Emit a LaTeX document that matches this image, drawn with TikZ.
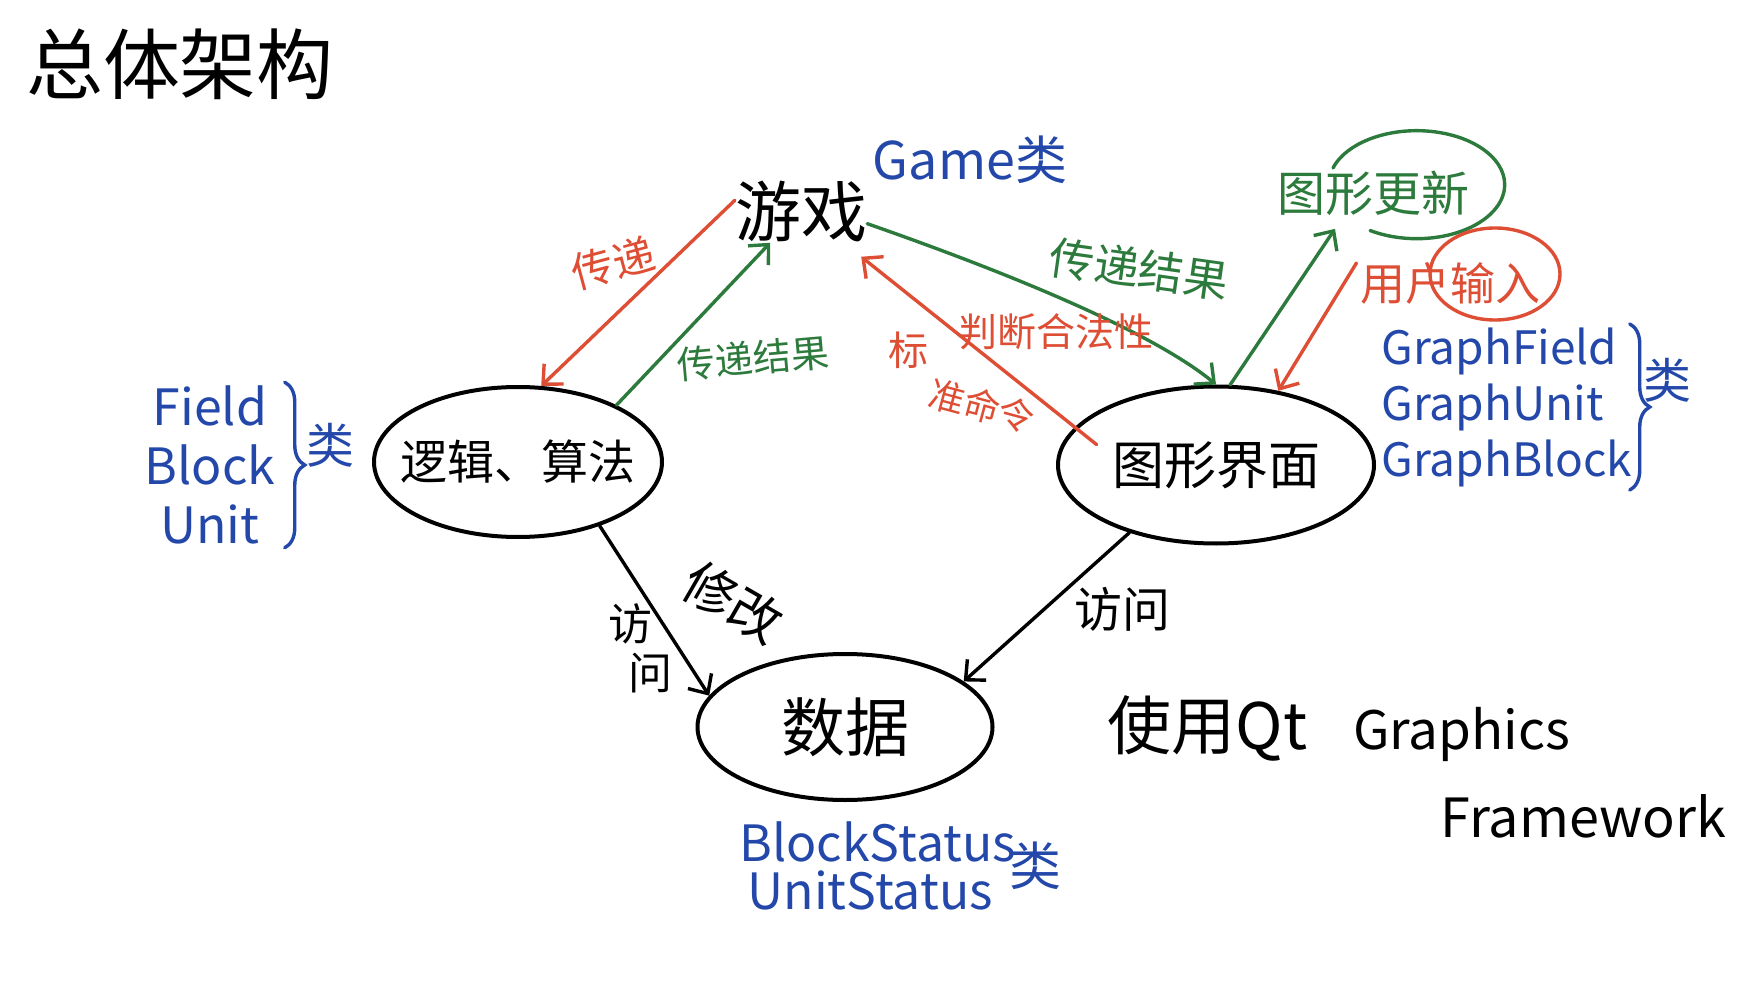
\documentclass[tikz,border=0pt]{standalone}
\usepackage{fontspec}
\setmainfont{Noto Sans CJK SC}
\usetikzlibrary{arrows.meta,shapes.geometric,decorations.pathreplacing,calc}
\definecolor{pen red}{RGB}{222,78,52}
\definecolor{pen green}{RGB}{44,122,60}
\definecolor{pen blue}{RGB}{36,72,170}
\newcommand{\psize}[1]{\fontsize{#1}{#1}\selectfont}
\tikzstyle{bubble} = [draw,ellipse,line width=4pt,inner sep=0pt]
\tikzstyle{pen arrow} = [line width=3.4pt,line cap=round,-{Straight Barb[length=15pt,width=28pt,line width=3.4pt]}]
\tikzstyle{pen line} = [line width=3.4pt,line cap=round]
\tikzstyle{red note} = [text=pen red]
\tikzstyle{green note} = [text=pen green]
\tikzstyle{blue note} = [text=pen blue]

\begin{document}
\begin{tikzpicture}[x=1pt,y=-1pt]
    \useasboundingbox[fill=white] (0,0) rectangle (1759,981);

    \node[font=\psize{77}] (title) at (180,64) {总体架构};

    % the four parts
    \node[inner sep=0pt,font=\psize{66}] (game) at (801,212) {游戏};
    \node[bubble,inner xsep=-16pt,minimum width=288pt,minimum height=150pt,font=\psize{47}] (logic) at (518,462) {逻辑、算法};
    \node[bubble,minimum width=316pt,minimum height=157pt,font=\psize{52}] (gui) at (1216,465) {图形界面};
    \node[bubble,minimum width=295pt,minimum height=146pt,font=\psize{64}] (data) at (845,727) {数据};

    % classes
    \node[blue note,font=\psize{52}] (gamecls) at (970,160) {Game类};
    \node[blue note,align=center,font=\fontsize{50}{59}\selectfont] (fieldcls) at (210,465) {Field\\Block\\Unit};
    \draw[pen line,pen blue,decorate,decoration={brace,amplitude=20pt}]
        ([xshift=6pt]fieldcls.north east) -- ([xshift=6pt]fieldcls.south east);
    \node[blue note,font=\psize{48}] (fieldlbl) at (330,445) {类};

    \node[blue note,align=left,anchor=west,font=\fontsize{46}{56}\selectfont] (graphcls) at (1378,407) {GraphField\\GraphUnit\\GraphBlock};
    \draw[pen line,pen blue,decorate,decoration={brace,amplitude=20pt}]
        ([xshift=-6pt]graphcls.north east) -- ([xshift=-6pt]graphcls.south east);
    \node[blue note,font=\psize{48}] (graphlbl) at (1667,380) {类};

    \node[blue note,align=left,anchor=west,font=\fontsize{50}{48}\selectfont] (statuscls) at (736,866) {BlockStatus\\\hspace{8pt}UnitStatus};
    \node[blue note,font=\psize{52}] (statuslbl) at (1035,866) {类};

    % Qt note
    \node[anchor=west,font=\psize{53}] (qtnote) at (1104,729) {{\psize{64}使用Qt}\hspace{46pt}Graphics};
    \node[anchor=west,font=\psize{54}] (framework) at (1437,816) {Framework};

    % update / input
    \node[green note,font=\psize{48}] (update) at (1373,193) {图形更新};
    \node[red note,font=\psize{45}] (input) at (1450,283) {用户输入};
    \draw[pen line,pen green] (1333,168) arc[start angle=-162,end angle=122,x radius=88,y radius=54];
    \draw[pen line,pen red] (1495,274) ellipse [x radius=65,y radius=46];

    % arrows
    \draw[pen arrow,pen red] (game.170) -- (logic.73);
    \draw[pen arrow,pen green] (logic.30) -- (game.-135);
    \draw[pen arrow,pen green] (game.-10) .. controls (1000,270) and (1150,330) .. (gui.90);
    \draw[pen arrow,pen red,shorten <=-28pt] (gui.165) -- ([yshift=-14pt,xshift=-6pt]game.south east);
    \draw[pen arrow,pen green] (gui.80) -- ([xshift=-38pt,yshift=-10pt]update.south);
    \draw[pen arrow,pen red] ([yshift=20pt]input.west) -- (gui.50);
    \draw[pen arrow] (logic.-38) -- (data.167);
    \draw[pen arrow] (gui.218) -- (data.21);

    % arrow labels
    \node[red note,font=\psize{42},rotate=15] (passlbl) at (613,263) {传递};
    \node[green note,font=\psize{38},rotate=5] (resultlbl) at (753,358) {传递结果};
    \node[green note,font=\psize{45},rotate=-8] (resultlbl2) at (1139,269) {传递结果};
    \node[red note,font=\psize{40}] (cmdlbl) at (908,350) {标};
    \node[red note,font=\psize{36},rotate=-15] (cmdlbl2) at (982,406) {准命令};
    \node[red note,font=\psize{39}] (checklbl) at (1056,332) {判断合法性};
    \node[align=left,font=\fontsize{44}{49}\selectfont] (visitlbl) at (640,648) {访\\\hspace{20pt}问};
    \node[font=\psize{52},rotate=-30] (editlbl) at (733,602) {修改};
    \node[font=\psize{48}] (visitlbl2) at (1122,609) {访问};
\end{tikzpicture}
\end{document}
